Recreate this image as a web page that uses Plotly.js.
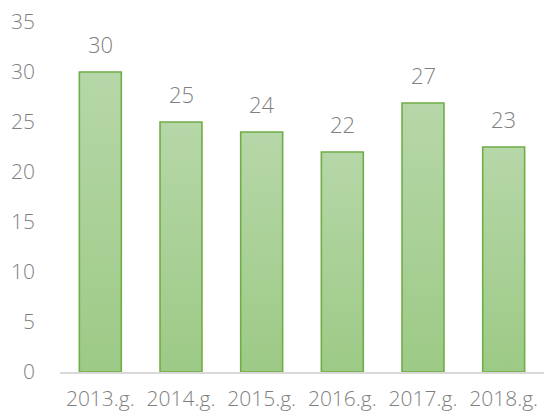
<!DOCTYPE html>
<html><head><meta charset="utf-8">
<script src="https://cdn.plot.ly/plotly-3.0.1.min.js"></script>
<style>html,body{margin:0;padding:0;background:#fff}#chart{width:544px;height:419px}</style>
</head><body><div id="chart"></div>
<script>
const categories = ["2013.g.", "2014.g.", "2015.g.", "2016.g.", "2017.g.", "2018.g."];
const values = [30, 25, 24, 22, 26.9, 22.5];
const labels = ["30", "25", "24", "22", "27", "23"];

const fontFam = '"Open Sans", "Noto Sans", sans-serif';
const trace = {
  type: 'bar', x: categories, y: values,
  width: 0.52,
  marker: {color: '#a9d197', line: {color: '#70ad47', width: 1.6}},
  hoverinfo: 'none'
};
const annotations = categories.map((c, i) => ({
  x: c, y: values[i], text: labels[i], showarrow: false,
  yanchor: 'bottom', yshift: 11,
  font: {family: fontFam, size: 22, color: '#7f7f7f', weight: 300}
}));
const layout = {
  width: 544, height: 419,
  margin: {l: 60, r: 0, t: 22, b: 47},
  paper_bgcolor: '#fff', plot_bgcolor: '#fff',
  showlegend: false,
  font: {family: fontFam, size: 21, color: '#7f7f7f', weight: 300},
  xaxis: {showgrid: false, showline: true, linecolor: '#d9d9d9', linewidth: 1.5,
          ticks: '', ticklabelstandoff: 7, tickfont: {size: 21, color: '#7f7f7f', weight: 300}, zeroline: false},
  yaxis: {range: [0, 35], dtick: 5, showgrid: false, showline: false, zeroline: false,
          ticks: '', ticklabelstandoff: 24, tickfont: {size: 21, color: '#7f7f7f', weight: 300}},
  annotations: annotations
};
Plotly.newPlot('chart', [trace], layout, {staticPlot: true}).then(gd => {
  const svg = gd.querySelector('svg.main-svg');
  const ns = 'http://www.w3.org/2000/svg';
  let defs = svg.querySelector('defs');
  const g = document.createElementNS(ns, 'linearGradient');
  g.setAttribute('id', 'barGrad'); g.setAttribute('x1', '0'); g.setAttribute('y1', '0');
  g.setAttribute('x2', '0'); g.setAttribute('y2', '1');
  [['0', '#b6d7a8'], ['1', '#9dca86']].forEach(([o, c]) => {
    const s = document.createElementNS(ns, 'stop');
    s.setAttribute('offset', o); s.setAttribute('stop-color', c); g.appendChild(s);
  });
  defs.appendChild(g);
  gd.querySelectorAll('.bars .point path').forEach(p => { p.style.fill = 'url(#barGrad)'; });
});
</script></body></html>
